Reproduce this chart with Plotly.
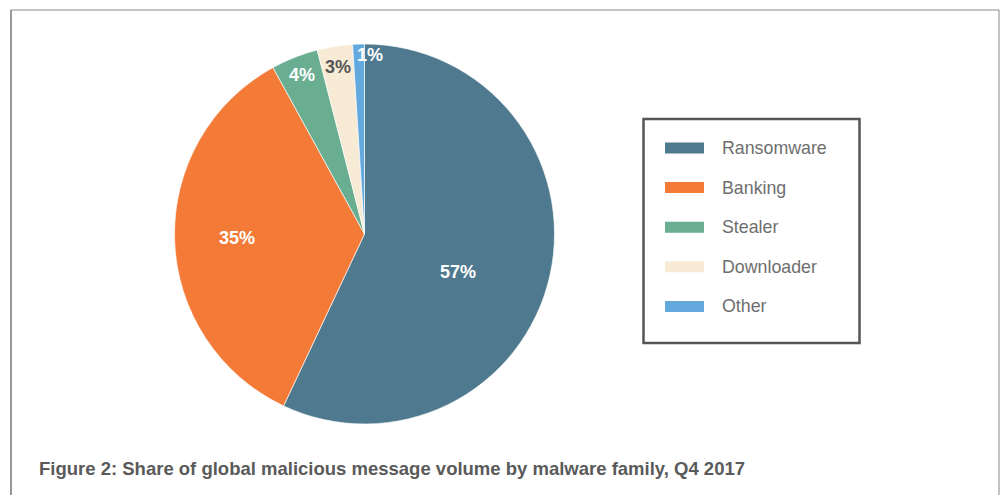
import math
import plotly.graph_objects as go

# ---- data ----
categories = ["Ransomware", "Banking", "Stealer", "Downloader", "Other"]
shares = [57, 35, 4, 3, 1]
label_texts = ["57%", "35%", "4%", "3%", "1%"]
caption = "Figure 2: Share of global malicious message volume by malware family, Q4 2017"

# ---- style ----
colors = ["#4f798f", "#f47a37", "#6aae92", "#f7ebd5", "#63a9de"]
label_colors = ["white", "white", "white", "#555555", "white"]
label_radius = [0.53, 0.67, 0.90, 0.89, 0.94]
label_dx = [-5, 0, 0, 0, 11]
label_dy = [16, 0, 0, 0, 0]

W, H = 1003, 495
cx, cy, R = 364.5, 234.0, 190.0
FONT = "Liberation Sans, Arial, Helvetica, sans-serif"


def px(x):
    return x / W


def py(y):
    return 1 - y / H


fig = go.Figure()
fig.add_trace(go.Pie(
    labels=categories,
    values=shares,
    sort=False,
    direction="clockwise",
    rotation=0,
    marker=dict(colors=colors, line=dict(color="rgba(255,255,255,0.8)", width=0.8)),
    textinfo="none",
    hoverinfo="label+percent",
    showlegend=False,
    domain=dict(x=[px(cx - R), px(cx + R)], y=[py(cy + R), py(cy - R)]),
))

annotations = []
shapes = []

# slice labels positioned from cumulative shares
total = sum(shares)
cum = 0.0
for i, v in enumerate(shares):
    mid = (cum + v / 2) / total * 2 * math.pi
    cum += v
    r = R * label_radius[i]
    x = cx + r * math.sin(mid) + label_dx[i]
    y = cy - r * math.cos(mid) + label_dy[i]
    annotations.append(dict(
        x=px(x), y=py(y), xref="paper", yref="paper",
        text="<b>%s</b>" % label_texts[i], showarrow=False,
        font=dict(family=FONT, size=18, color=label_colors[i]),
        xanchor="center", yanchor="middle",
    ))

# outer frame
shapes.append(dict(type="line", xref="paper", yref="paper",
                   x0=px(11), x1=px(999), y0=py(10), y1=py(10),
                   line=dict(color="#b0b0b0", width=1.5)))
shapes.append(dict(type="line", xref="paper", yref="paper",
                   x0=px(11), x1=px(11), y0=py(10), y1=py(500),
                   line=dict(color="#777777", width=1.5)))
shapes.append(dict(type="line", xref="paper", yref="paper",
                   x0=px(999), x1=px(999), y0=py(10), y1=py(500),
                   line=dict(color="#999999", width=1.2)))

# legend box
shapes.append(dict(type="rect", xref="paper", yref="paper",
                   x0=px(643.5), x1=px(859.5), y0=py(119), y1=py(343),
                   line=dict(color="#555555", width=2.5), fillcolor="white"))
row0, row_gap = 148.0, 39.6
for i, name in enumerate(categories):
    yc = row0 + i * row_gap
    shapes.append(dict(type="rect", xref="paper", yref="paper",
                       x0=px(665), x1=px(704), y0=py(yc - 5.5), y1=py(yc + 5.5),
                       line=dict(width=0), fillcolor=colors[i]))
    annotations.append(dict(
        x=px(720), y=py(yc), xref="paper", yref="paper",
        text=name, showarrow=False, xanchor="left", yanchor="middle",
        font=dict(family=FONT, size=17.8, color="#6e6e6e"),
    ))

# caption
annotations.append(dict(
    x=px(37), y=py(468), xref="paper", yref="paper",
    text="<b>%s</b>" % caption, showarrow=False, xanchor="left", yanchor="middle",
    font=dict(family=FONT, size=18.5, color="#5a5a5a"),
))

fig.update_layout(
    width=W, height=H,
    margin=dict(l=0, r=0, t=0, b=0),
    paper_bgcolor="white", plot_bgcolor="white",
    shapes=shapes, annotations=annotations,
    showlegend=False,
)

fig.write_html(
    "out.html",
    config={"displayModeBar": False},
    post_script="document.body.style.margin='0';document.body.style.overflow='hidden';",
)
